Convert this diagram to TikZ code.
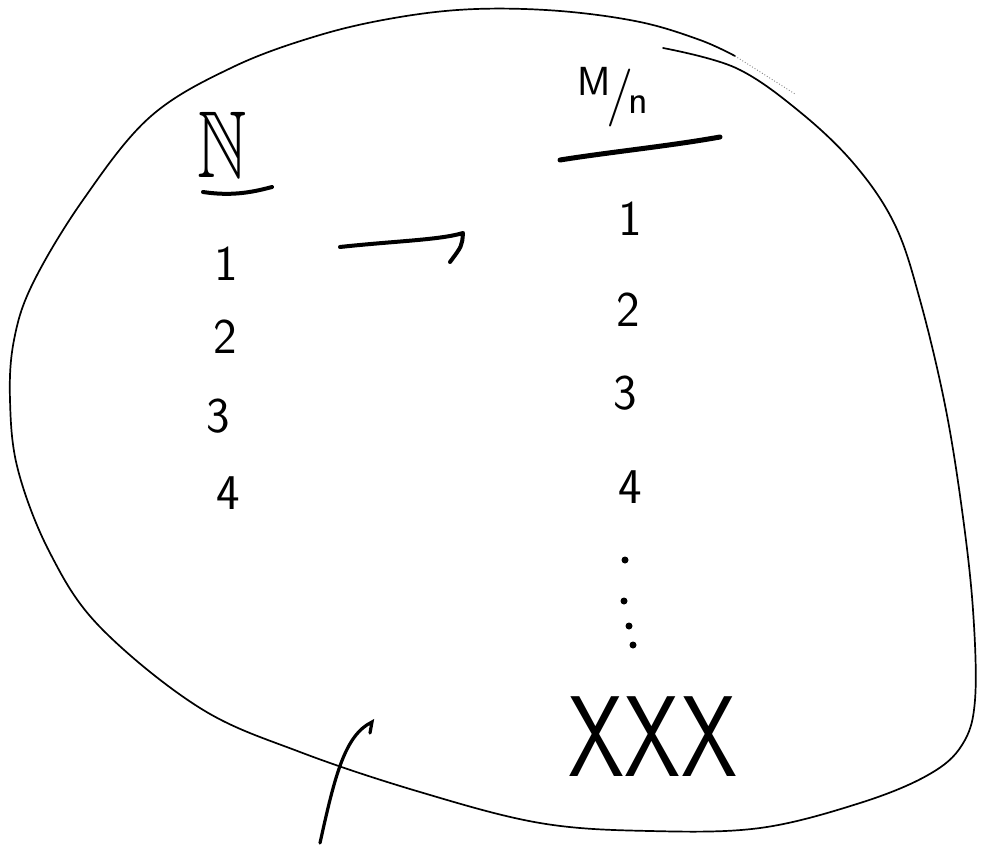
\documentclass[tikz,border=0pt]{standalone}
\usepackage{amssymb}
\usepackage{graphicx}
\begin{document}
\begin{tikzpicture}[x=1pt,y=-1pt,
  outline/.style={line width=1.7pt, line cap=round, line join=round},
  pen/.style={line width=4pt, line cap=round, line join=round},
  digit/.style={font=\sffamily\fontsize{50}{60}\selectfont, inner sep=0pt},
  dotmark/.style={circle, fill=black, inner sep=0pt, minimum size=7pt}]
\useasboundingbox (0,0) rectangle (995,845);
% outline of the set
\draw[outline] plot[smooth, tension=0.6] coordinates {(663,48) (736,68) (800,112) (855,165) (895,225) (920,300) (945,405) (962,510) (973,610) (975,700) (962,745) (928,775) (860,803) (760,828) (650,831) (540,823) (420,792) (300,752) (200,708) (100,627) (50,553) (18,470) (10,400) (14,340) (33,283) (83,200) (150,117) (233,67) (320,35) (400,17) (476,9) (560,11) (640,22) (700,40) (735,56)};
\draw[line width=0.9pt, dotted, gray] (735,56) -- (795,94);
% left column
\node[font=\fontsize{95}{100}\selectfont, inner sep=0pt, xscale=0.72] (nat) at (222,145) {$\mathbb{N}$};
\coordinate (nu1) at (203,192);
\coordinate (nu2) at (272,187);
\draw[pen] (nu1) .. controls (230,196) and (250,193) .. (nu2);
\node[digit] (l1) at (226,264) {1};
\node[digit] (l2) at (225,337) {2};
\node[digit] (l3) at (218,416) {3};
\node[digit] (l4) at (228,493) {4};
% arrow
\coordinate (as) at (340,247);
\coordinate (at) at (463,233);
\coordinate (ah) at (450,262);
\draw[pen] (as) .. controls (395,241) and (440,240) .. (at) .. controls (462,246) .. (ah);
% right column
\node[font=\sffamily\fontsize{58}{60}\selectfont, inner sep=0pt] (mn) at (613,97)
  {\raisebox{0.3em}{\scalebox{0.7}{M}}\kern-0.08em/\kern-0.08em\raisebox{-0.02em}{\scalebox{0.7}{n}}};
\coordinate (mu1) at (560,160);
\coordinate (mu2) at (720,137);
\draw[line width=5pt, line cap=round] (mu1) .. controls (610,152) and (670,146) .. (mu2);
\node[digit] (r1) at (630,219) {1};
\node[digit] (r2) at (628,310) {2};
\node[digit] (r3) at (625,393) {3};
\node[digit] (r4) at (630,487) {4};
\node[dotmark] (d1) at (625,560) {};
\node[dotmark] (d2) at (624,601) {};
\node[dotmark] (d3) at (629,626) {};
\node[dotmark] (d4) at (633,645) {};
\node[font=\sffamily\fontsize{115}{120}\selectfont, inner sep=0pt, xscale=0.78] (xxx) at (653,737) {XXX};
% stroke at the bottom
\coordinate (sb) at (320,843);
\coordinate (st) at (372,722);
\draw[line width=3.2pt, line cap=round] (sb) .. controls (335,775) and (345,735) .. (st) -- (370,733);
\end{tikzpicture}
\end{document}
